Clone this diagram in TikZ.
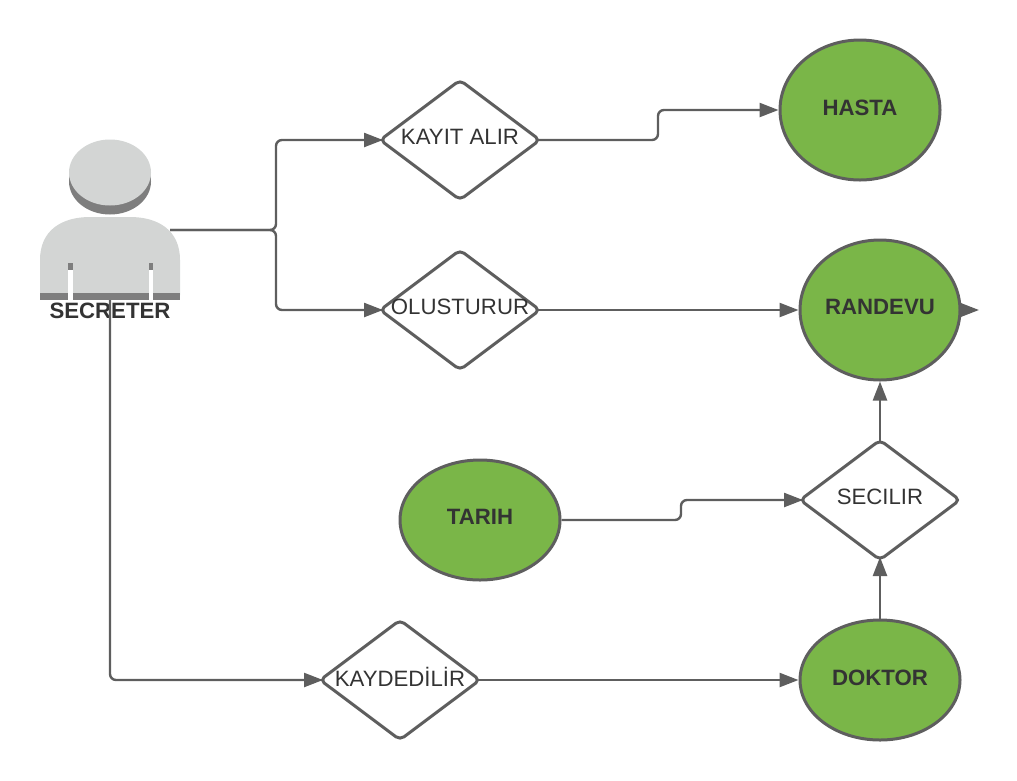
\documentclass[tikz,border=0pt]{standalone}
\usepackage{fontspec}
\setmainfont{Liberation Sans}
\usetikzlibrary{arrows.meta,shapes.geometric}
\definecolor{linegray}{HTML}{5E5E5E}
\definecolor{leafgreen}{HTML}{7AB648}
\definecolor{bodygray}{HTML}{D3D5D4}
\definecolor{shadegray}{HTML}{7E7E7E}
\definecolor{textgray}{HTML}{333333}
\begin{document}
\begin{tikzpicture}[x=1pt,y=-1pt,
    conn/.style={draw=linegray,line width=2.4pt,rounded corners=6pt,-{Triangle[length=19pt,width=14pt]}},
    entity/.style={ellipse,draw=linegray,line width=3pt,fill=leafgreen,minimum width=160pt,inner sep=0pt,text depth=5.5pt,text=textgray,font=\fontsize{22.2}{24}\selectfont\bfseries},
    decision/.style={diamond,draw=linegray,line width=3pt,fill=white,rounded corners=5pt,minimum width=158pt,minimum height=118pt,inner sep=0pt,outer sep=-2pt},
    decisiontext/.style={text=textgray,font=\fontsize{22.2}{24}\selectfont,inner sep=0pt,yshift=3.5pt}]
\useasboundingbox (0,0) rectangle (1017,780);
% person
\fill[shadegray] (110,181.5) ellipse (41 and 33);
\fill[bodygray] (110,172.5) ellipse (41 and 33);
\fill[bodygray] (40,295) -- (40,260) .. controls (40,230) and (62,217) .. (90,217) -- (130,217) .. controls (158,217) and (180,230) .. (180,260) -- (180,295) -- cycle;
\fill[shadegray] (40,293) rectangle (180,300);
\fill[shadegray] (68,263) rectangle (72.5,270);
\fill[shadegray] (148.5,263) rectangle (153,270);
\fill[white] (68,270) rectangle (72.5,300);
\fill[white] (148.5,270) rectangle (153,300);
\node[text=textgray,font=\fontsize{22.2}{24}\selectfont\bfseries,inner sep=0pt] (secreter) at (110,311) {SECRETER};
\coordinate (secreterside) at (170,230);
\coordinate (secreterfoot) at (110,300);
% decisions
\node[decision,label={[decisiontext]center:KAYIT ALIR}] (kayit) at (460,140) {};
\node[decision,label={[decisiontext]center:OLUSTURUR}] (olusturur) at (460,310) {};
\node[decision,label={[decisiontext]center:SECILIR}] (secilir) at (880,500) {};
\node[decision,label={[decisiontext]center:KAYDEDİLİR}] (kaydedilir) at (400,680) {};
% entities
\node[entity,minimum height=140pt] (hasta) at (860,110) {HASTA};
\node[entity,minimum height=140pt] (randevu) at (880,310) {RANDEVU};
\node[entity,minimum height=120pt] (tarih) at (480,520) {TARIH};
\node[entity,minimum height=120pt] (doktor) at (880,680) {DOKTOR};
\coordinate (randevuend) at (979,310);
% connectors
\draw[conn] (secreterside) -- (276,230) |- (kayit.west);
\draw[conn] (secreterside) -- (276,230) |- (olusturur.west);
\draw[conn] (secreterfoot) |- (kaydedilir.west);
\draw[conn] (kayit.east) -- (658,140) |- (hasta.west);
\draw[conn] (olusturur.east) -- (randevu.west);
\draw[conn] (randevu.east) -- (randevuend);
\draw[conn] (tarih.east) -- (681,520) |- (secilir.west);
\draw[conn] (secilir.north) -- (randevu.south);
\draw[conn] (doktor.north) -- (secilir.south);
\draw[conn] (kaydedilir.east) -- (doktor.west);
\end{tikzpicture}
\end{document}
